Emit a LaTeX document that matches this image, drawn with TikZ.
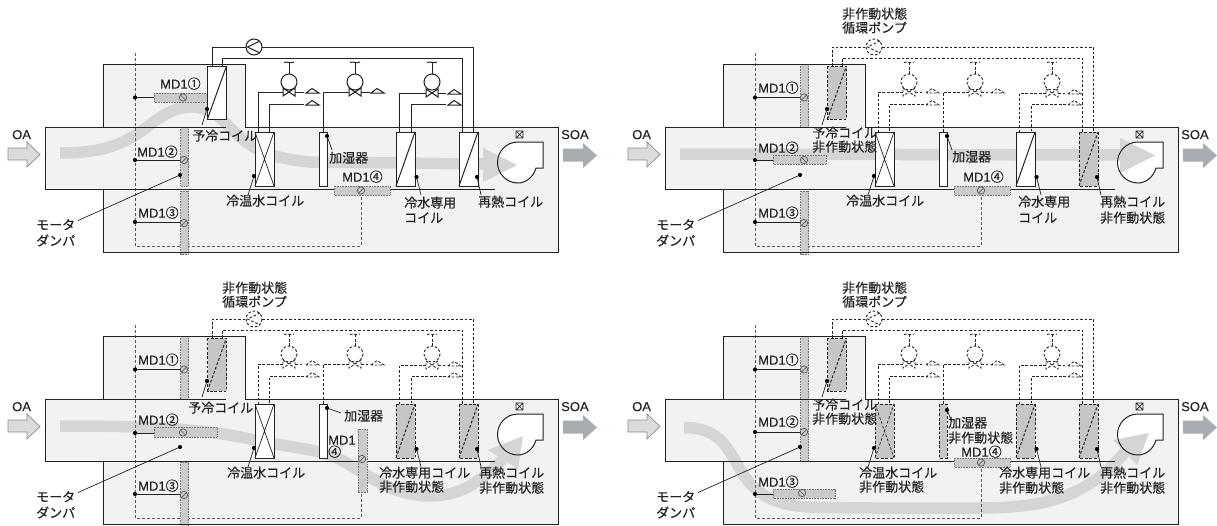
\documentclass[tikz,border=0pt]{standalone}
\usepackage{fontspec}
\setmainfont[FakeBold=0.25]{Liberation Sans}
\newfontfamily\cjk[FakeBold=0.35]{Noto Sans CJK JP}
\definecolor{ink}{HTML}{232323}
\definecolor{boxfill}{HTML}{F1F2F3}
\definecolor{bandc}{HTML}{D3D5D7}
\definecolor{barc}{HTML}{C9CBCD}
\definecolor{offc}{HTML}{C4C6C8}
\definecolor{oac}{HTML}{DADCDC}
\definecolor{soac}{HTML}{A9ADB1}
\tikzset{
  ln/.style={draw=ink,line width=1pt},
  ctl/.style={draw=black!65,line width=1pt,dash pattern=on 3pt off 2pt},
  pipesolid/.style={draw=ink,line width=1pt},
  pipedash/.style={draw=ink,line width=0.9pt,dash pattern=on 2.6pt off 1.9pt},
  coilon/.style={draw=ink,line width=1pt,fill=white},
  coiloff/.style={draw=ink,line width=1pt,fill=offc,dash pattern=on 2.8pt off 1.8pt},
  dmp/.style={fill=barc,draw=black!55,line width=0.6pt,dash pattern=on 0.8pt off 0.8pt},
  sym/.style={draw=black!65,line width=0.7pt},
  lbl/.style={inner sep=0pt,anchor=base west,yshift=-4.6pt,text=ink,font=\fontsize{13}{13}\selectfont},
  band/.style={draw=bandc,line width=11.5pt},
  headf/.style={fill=bandc},
}
% text helpers
\newcommand{\lab}[3]{\node[lbl] at (#1,#2) {#3};}
\newcommand{\jlab}[3]{\node[lbl] at (#1,#2) {\cjk #3};}
\newcommand{\mdl}[3]{\node[lbl] at (#1,#2) {MD1{\cjk #3}};}
\newcommand{\dotp}[2]{\fill[black] (#1,#2) circle (2.1);}
\newcommand{\tap}[2]{\draw[ln] (135,#1) -- (#2,#1); \dotp{135}{#1}}
\newcommand{\dsym}[3]{\draw[sym] (#1,#2) circle (3.7); \draw[sym] ({#1-#3*2.6},{#2+2.6}) -- ({#1+#3*2.6},{#2-2.6});}
\newcommand{\rdmp}[4]{\path[dmp] (#1,#2) rectangle (#3,#4);}
\newcommand{\shellfill}{%
  \fill[boxfill] (103,64) rectangle (245,127);
  \fill[boxfill] (45,127) rectangle (558,189);
  \fill[boxfill] (103,189) rectangle (558,252);
  \fill[white] (518,142) -- (543,142) -- (543,168) -- (536,168) .. controls (533,178) and (525,183) .. (518,183) .. controls (506.4,183) and (497.5,173.6) .. (497.5,162.5) .. controls (497.5,151.4) and (506.4,142) .. (518,142) -- cycle;
}
\newcommand{\shelllines}{%
  \draw[ln] (103,127) -- (103,64) -- (245,64) -- (245,127);
  \draw[ln] (226,127) -- (45,127) -- (45,189) -- (495,189);
  \draw[ln] (245,127) -- (558,127) -- (558,252) -- (103,252) -- (103,189);
  % fan
  \draw[ln] (518,142) -- (543,142) -- (543,168) -- (536,168) .. controls (533,178) and (525,183) .. (518,183) .. controls (506.4,183) and (497.5,173.6) .. (497.5,162.5) .. controls (497.5,151.4) and (506.4,142) .. (518,142) -- cycle;
  \draw[draw=ink,line width=0.7pt] (516,131) rectangle (523,138) (516,131) -- (523,138) (516,138) -- (523,131);
  % OA / SOA
  \draw[fill=oac,draw=black!45,line width=0.7pt] (8,148) -- (27,148) -- (27,142) -- (40,154.5) -- (27,167) -- (27,160) -- (8,160) -- cycle;
  \fill[soac] (563,148.5) -- (583,148.5) -- (583,143) -- (597,155.5) -- (583,168) -- (583,161.5) -- (563,161.5) -- cycle;
  \lab{12}{134.5}{OA}
  \lab{561}{134.5}{SOA}
  % motor damper label
  \draw[ln,line width=0.7pt] (78,220.5) -- (180,175);
  \dotp{180}{175}
  \jlab{36}{225}{モータ}
  \jlab{36}{241}{ダンパ}
}
\newcommand{\wdg}[2]{\path[pipe] (#1,{#2+2}) -- ({#1+6},{#2-2.5}) -- ({#1+13},{#2+2}) -- cycle;}
\newcommand{\valve}[2]{%
  \path[pipe] (#1,82) circle (8);
  \path[pipe] (#1,74) -- (#1,62);
  \path[pipe] ({#1-5},62.5) .. controls ({#1-2},61) and ({#1+2},64) .. ({#1+5},62);
  \path[pipe] ({#1-6},{#2-4}) -- ({#1+6},{#2+4}) -- ({#1+6},{#2-4}) -- ({#1-6},{#2+4}) -- cycle;
}
\newcommand{\plant}{%
  \path[pipe] (212,66) -- (212,47) -- (246,47);
  \path[pipe] (262,47) -- (473.5,47) -- (473.5,132);
  \path[pipe] (222,66) -- (222,58) -- (462.5,58) -- (462.5,132);
  \path[pipe] (254,47) circle (8);
  \path[pipe] (260,41) -- (247.5,47) -- (260,53);
  \valve{289}{92}
  \valve{355}{92}
  \valve{432}{93}
  \path[pipe] (283,92) -- (258,92) -- (258,132);
  \path[pipe] (295,92) -- (304,92);
  \path[pipe] (304,104.5) -- (269,104.5) -- (269,132);
  \wdg{306}{91}
  \wdg{306}{103}
  \path[pipe] (349,92) -- (323,92) -- (323,132);
  \path[pipe] (361,92) -- (370,92);
  \wdg{371}{91}
  \path[pipe] (426,93) -- (399.5,93) -- (399.5,132);
  \path[pipe] (438,93) -- (446,93);
  \path[pipe] (446,104.5) -- (411.5,104.5) -- (411.5,132);
  \wdg{448}{92}
  \wdg{448}{103}
}
\newcommand{\coilX}[1]{\path[#1] (255,132) rectangle (274,186); \path[#1,fill=none,line width=0.7pt] (255,132) -- (274,186) (255,186) -- (274,132);}
\newcommand{\coilD}[3]{\path[#1] (#2,#3) rectangle ({#2+19},{#3+\ifdim #3pt<100pt 53\else 54\fi}); \path[#1,fill=none] (#2,{#3+\ifdim #3pt<100pt 53\else 54\fi}) -- ({#2+19},#3);}
\newcommand{\coilH}[1]{\path[#1] (319,132) rectangle (327,186);}
\newcommand{\leadlines}{%
  \draw[ln,line width=0.7pt] (207,109) -- (202,125); \dotp{207}{109}
  \draw[ln,line width=0.7pt] (254,176) -- (248,195); \dotp{254}{176}
  \draw[ln,line width=0.7pt] (416.5,177) -- (421,195); \dotp{416.5}{177}
  \draw[ln,line width=0.7pt] (477,177) -- (481,195); \dotp{477}{177}
}
\begin{document}
\begin{tikzpicture}[x=1pt,y=-1pt]
\useasboundingbox (0,0) rectangle (1217,525);
\fill[white] (0,0) rectangle (1217,525);
%===== panel 1
\begin{scope}[pipe/.style={pipesolid}]
  \shellfill
  \draw[band] (60,153) .. controls (95,153) and (120,148) .. (147,127) .. controls (165,113) and (180,104) .. (200,108) .. controls (220,112) and (225,125) .. (240,137) .. controls (255,150) and (270,158) .. (310,162) -- (485,164);
  \fill[headf] (483,148) -- (517,165) -- (483,182) -- cycle;
  \draw[ctl] (135,53) -- (135,246) -- (361,246) -- (361,195);
  \rdmp{154}{93}{207}{102}
  \rdmp{180.5}{127}{188.5}{186}
  \rdmp{180.5}{191}{188.5}{254}
  \shelllines
  \rdmp{334}{186}{390}{195}
  \dsym{183}{97.5}{-1} \dsym{184}{160}{1} \dsym{184}{223}{1} \dsym{361}{190.5}{1}
  \tap{97.5}{154} \tap{160}{180} \tap{222}{180}
  \mdl{160}{84}{①} \mdl{137}{152}{②} \mdl{138}{213}{③} \mdl{342}{177}{④}
  \plant
  \coilD{coilon}{207.5}{66}
  \coilX{coilon} \coilH{coilon} \coilD{coilon}{396}{132} \coilD{coilon}{459}{132}
  \leadlines
  \draw[ln,line width=0.7pt] (327,136) -- (332,150); \dotp{327}{136}
  \jlab{192}{136}{予冷コイル}
  \jlab{226}{201}{冷温水コイル}
  \jlab{329}{158}{加湿器}
  \jlab{404}{203}{冷水専用}
  \jlab{404}{218}{コイル}
  \jlab{478}{202}{再熱コイル}
\end{scope}
%===== panel 2
\begin{scope}[shift={(620,0)},pipe/.style={pipedash}]
  \shellfill
  \draw[band] (60,154) -- (505,155);
  \fill[headf] (500,138) -- (535,155.5) -- (500,173) -- cycle;
  \draw[ctl] (135,53) -- (135,246) -- (361,246) -- (361,195);
  \rdmp{180.5}{64}{188.5}{127}
  \rdmp{153}{155}{206}{164}
  \rdmp{180.5}{191}{188.5}{254}
  \shelllines
  \rdmp{334}{186}{390}{195}
  \dsym{184}{97.5}{1} \dsym{184}{160}{-1} \dsym{184}{223}{1} \dsym{361}{190.5}{1}
  \tap{97.5}{180} \tap{160}{153} \tap{222}{180}
  \mdl{138}{88}{①} \mdl{138}{148}{②} \mdl{138}{213}{③} \mdl{343}{177}{④}
  \plant
  \coilD{coiloff}{207.5}{66}
  \coilX{coilon} \coilH{coilon} \coilD{coilon}{396}{132} \coilD{coiloff}{459}{132}
  \leadlines
  \draw[ln,line width=0.7pt] (327,136) -- (332,150); \dotp{327}{136}
  \jlab{192}{133}{予冷コイル}
  \jlab{192}{147}{非作動状態}
  \jlab{226}{201}{冷温水コイル}
  \jlab{332}{157}{加湿器}
  \jlab{398}{202}{冷水専用}
  \jlab{398}{218}{コイル}
  \jlab{480}{202}{再熱コイル}
  \jlab{480}{218}{非作動状態}
  \jlab{222}{14}{非作動状態}
  \jlab{222}{28}{循環ポンプ}
\end{scope}
%===== panel 3
\begin{scope}[shift={(0,272)},pipe/.style={pipedash}]
  \shellfill
  \draw[band] (60,154) .. controls (130,154) and (200,155) .. (254,168) .. controls (290,176) and (320,176) .. (345,190) .. controls (370,205) and (395,224) .. (430,224) .. controls (465,224) and (485,205) .. (503,187);
  \fill[headf] (488,178) -- (523,164) -- (518,197) -- cycle;
  \draw[ctl] (135,53) -- (135,246) -- (361,246) -- (361,220);
  \rdmp{180.5}{64}{188.5}{127}
  \rdmp{154}{155}{217}{165}
  \rdmp{180.5}{190}{188.5}{254}
  \shelllines
  \rdmp{358}{157}{367}{220}
  \dsym{184}{97.5}{1} \dsym{183}{160.5}{-1} \dsym{184}{223}{1} \dsym{362}{187}{1}
  \tap{97.5}{180} \tap{161}{154} \tap{222}{180}
  \mdl{138}{88}{①} \mdl{138}{148}{②} \mdl{138}{214}{③}
  \lab{328}{168}{MD1}
  \jlab{328}{180}{④}
  \plant
  \coilD{coiloff}{207.5}{66}
  \coilX{coilon} \coilH{coilon} \coilD{coiloff}{396}{132} \coilD{coiloff}{459}{132}
  \leadlines
  \draw[ln,line width=0.7pt] (327,136) -- (341,141); \dotp{327}{136}
  \jlab{188}{136}{予冷コイル}
  \jlab{227}{201}{冷温水コイル}
  \jlab{344}{144}{加湿器}
  \jlab{379}{201}{冷水専用コイル}
  \jlab{379}{215}{非作動状態}
  \jlab{479}{201}{再熱コイル}
  \jlab{479}{216}{非作動状態}
  \jlab{222}{16}{非作動状態}
  \jlab{222}{30}{循環ポンプ}
\end{scope}
%===== panel 4
\begin{scope}[shift={(620,272)},pipe/.style={pipedash}]
  \shellfill
  \draw[band] (64,155.5) .. controls (95,155.5) and (105,172) .. (113,185) .. controls (125,205) and (135,233) .. (190,235) .. controls (240,236.5) and (300,236) .. (357,236) .. controls (420,236) and (465,228) .. (505,180);
  \fill[headf] (493,168) -- (529,161) -- (517,193) -- cycle;
  \draw[ctl] (135,53) -- (135,246) -- (361,246) -- (361,195);
  \rdmp{180.5}{64}{188.5}{127}
  \rdmp{180.5}{127}{188.5}{189}
  \rdmp{153}{217}{215}{226}
  \shelllines
  \rdmp{334}{186}{390}{195}
  \dsym{184}{97.5}{1} \dsym{184}{160}{1} \dsym{182}{221}{-1} \dsym{361}{190.5}{1}
  \tap{97.5}{180} \tap{160}{180} \tap{222}{153}
  \mdl{138}{88}{①} \mdl{138}{150}{②} \mdl{138}{210}{③} \mdl{341}{180}{④}
  \plant
  \coilD{coiloff}{207.5}{66}
  \coilX{coiloff} \coilH{coiloff} \coilD{coiloff}{396}{132} \coilD{coiloff}{459}{132}
  \leadlines
  \draw[ln,line width=0.7pt] (327,138) -- (332,150); \dotp{327}{138}
  \jlab{192}{133}{予冷コイル}
  \jlab{192}{147}{非作動状態}
  \jlab{239}{201}{冷温水コイル}
  \jlab{239}{215}{非作動状態}
  \jlab{328}{151}{加湿器}
  \jlab{328}{166}{非作動状態}
  \jlab{379}{201}{冷水専用コイル}
  \jlab{379}{216}{非作動状態}
  \jlab{480}{201}{再熱コイル}
  \jlab{480}{216}{非作動状態}
  \jlab{222}{16}{非作動状態}
  \jlab{222}{30}{循環ポンプ}
\end{scope}
\end{tikzpicture}
\end{document}
